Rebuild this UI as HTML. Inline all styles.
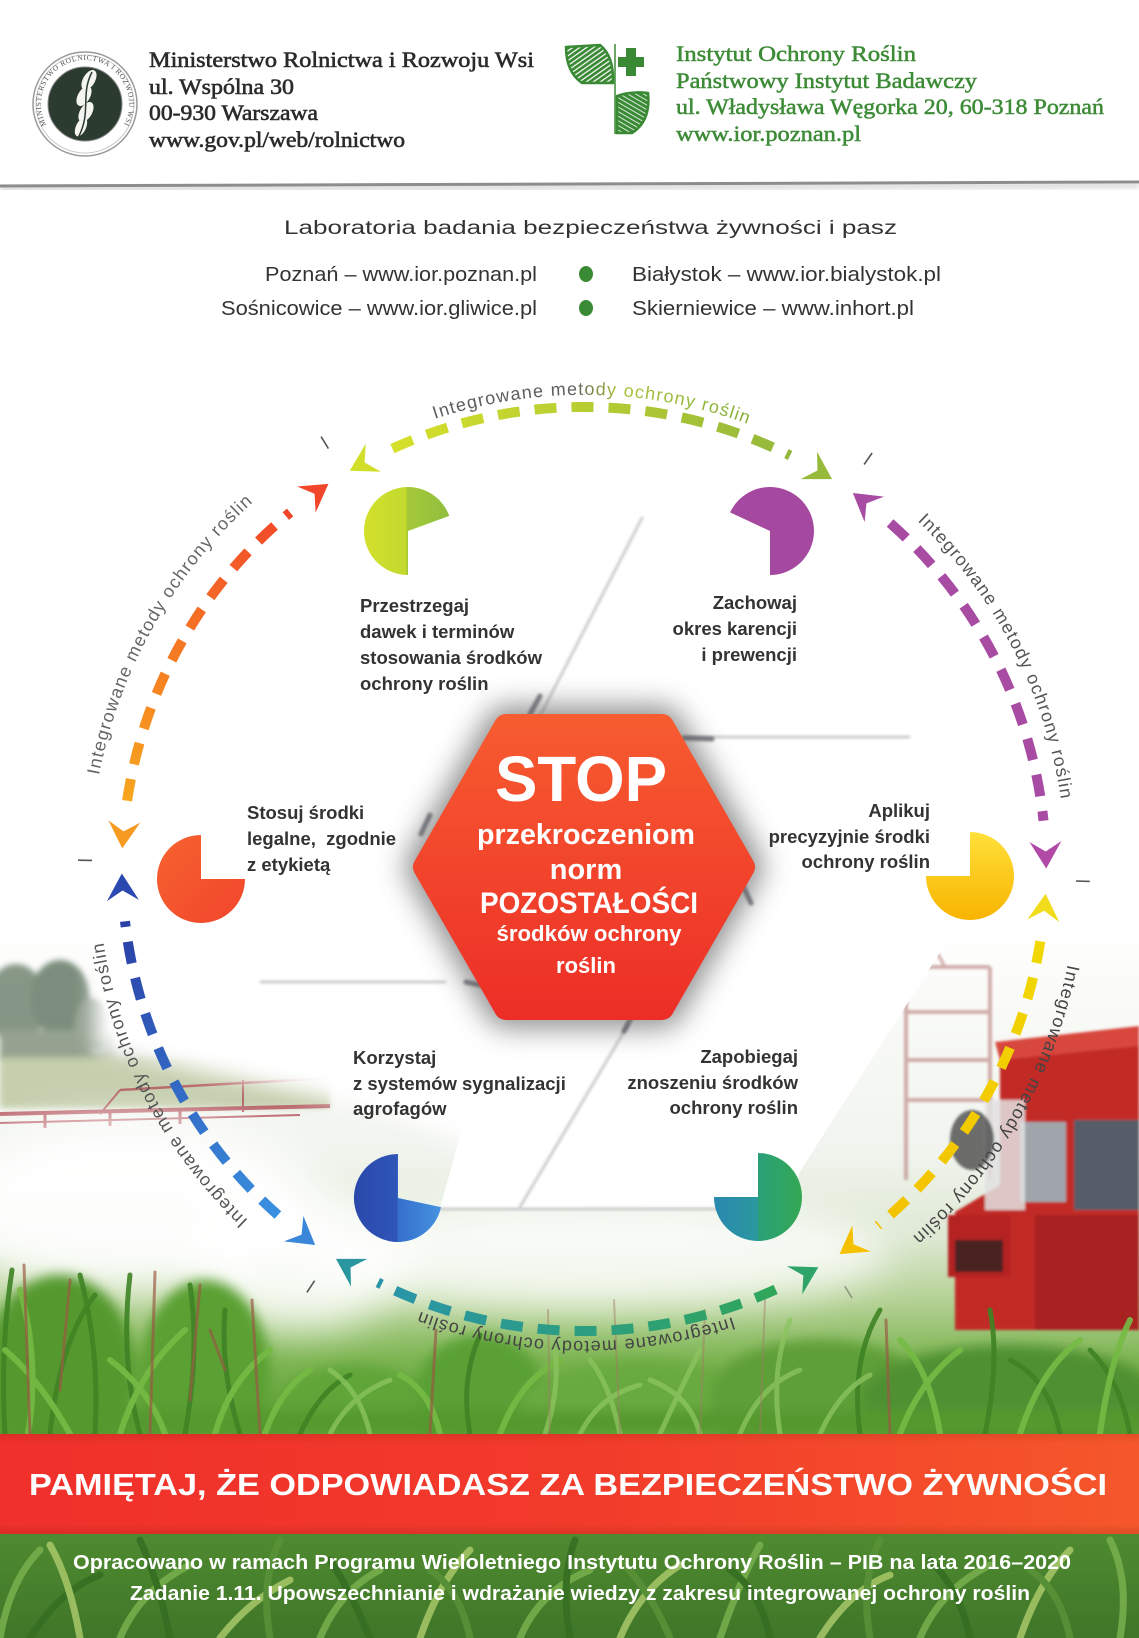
<!DOCTYPE html>
<html><head><meta charset="utf-8">
<style>
html,body{margin:0;padding:0;background:#fff;}
svg{display:block;}
</style></head><body>
<svg width="1139" height="1638" viewBox="0 0 1139 1638" xmlns="http://www.w3.org/2000/svg">
<defs>
  <filter id="b1" x="-20%" y="-20%" width="140%" height="140%"><feGaussianBlur stdDeviation="1.2"/></filter>
  <filter id="b2" x="-20%" y="-20%" width="140%" height="140%"><feGaussianBlur stdDeviation="1.6"/></filter>
  <filter id="b3" x="-20%" y="-20%" width="140%" height="140%"><feGaussianBlur stdDeviation="3"/></filter>
  <filter id="b6" x="-30%" y="-30%" width="160%" height="160%"><feGaussianBlur stdDeviation="6"/></filter>
  <filter id="b10" x="-30%" y="-30%" width="160%" height="160%"><feGaussianBlur stdDeviation="10"/></filter>
  <filter id="b14" x="-30%" y="-30%" width="160%" height="160%"><feGaussianBlur stdDeviation="14"/></filter>
  <filter id="b20" x="-40%" y="-40%" width="180%" height="180%"><feGaussianBlur stdDeviation="20"/></filter>

  <linearGradient id="field" x1="0" y1="925" x2="0" y2="1638" gradientUnits="userSpaceOnUse">
    <stop offset="0" stop-color="#ffffff"/>
    <stop offset="0.1" stop-color="#fafbf8"/>
    <stop offset="0.32" stop-color="#f1f4ee"/>
    <stop offset="0.44" stop-color="#dde8d2"/>
    <stop offset="0.53" stop-color="#b2d092"/>
    <stop offset="0.61" stop-color="#7db552"/>
    <stop offset="0.72" stop-color="#58982f"/>
    <stop offset="0.86" stop-color="#4e8a30"/>
    <stop offset="1" stop-color="#3f7628"/>
  </linearGradient>

  <linearGradient id="gOrange" x1="127" y1="801" x2="290" y2="512" gradientUnits="userSpaceOnUse">
    <stop offset="0" stop-color="#f7a61e"/><stop offset="1" stop-color="#f2462a"/>
  </linearGradient>
  <linearGradient id="gGreen" x1="392" y1="0" x2="790" y2="0" gradientUnits="userSpaceOnUse">
    <stop offset="0" stop-color="#d6e02a"/><stop offset="1" stop-color="#94b83c"/>
  </linearGradient>
  <linearGradient id="gYellow" x1="0" y1="941" x2="0" y2="1226" gradientUnits="userSpaceOnUse">
    <stop offset="0" stop-color="#f0d800"/><stop offset="1" stop-color="#f4c200"/>
  </linearGradient>
  <linearGradient id="gTeal" x1="378" y1="0" x2="776" y2="0" gradientUnits="userSpaceOnUse">
    <stop offset="0" stop-color="#2a94aa"/><stop offset="1" stop-color="#30a65a"/>
  </linearGradient>
  <linearGradient id="gBlue" x1="125" y1="921" x2="278" y2="1215" gradientUnits="userSpaceOnUse">
    <stop offset="0" stop-color="#2a3fa6"/><stop offset="1" stop-color="#3a90e0"/>
  </linearGradient>
  <linearGradient id="gTopText" x1="430" y1="0" x2="747" y2="0" gradientUnits="userSpaceOnUse">
    <stop offset="0" stop-color="#5e5e5e"/><stop offset="0.45" stop-color="#5e5e5e"/>
    <stop offset="0.6" stop-color="#a8c43a"/><stop offset="1" stop-color="#86b03a"/>
  </linearGradient>

  <linearGradient id="pgGreen" x1="0" y1="0" x2="1" y2="0">
    <stop offset="0" stop-color="#d3e02c"/><stop offset="0.5" stop-color="#c2d92e"/>
    <stop offset="0.5" stop-color="#a6c93a"/><stop offset="1" stop-color="#8fbf3e"/>
  </linearGradient>
  <linearGradient id="pgYellow" x1="0" y1="0" x2="0" y2="1">
    <stop offset="0" stop-color="#ffe03a"/><stop offset="1" stop-color="#f8b400"/>
  </linearGradient>
  <linearGradient id="pgBlue" x1="0" y1="0" x2="1" y2="0">
    <stop offset="0" stop-color="#2a48aa"/><stop offset="0.5" stop-color="#2f56b8"/>
    <stop offset="0.5" stop-color="#3570cc"/><stop offset="1" stop-color="#4592e0"/>
  </linearGradient>
  <linearGradient id="pgTeal" x1="0" y1="0" x2="1" y2="0">
    <stop offset="0" stop-color="#2a88b0"/><stop offset="0.5" stop-color="#2b989e"/>
    <stop offset="0.5" stop-color="#2aa07a"/><stop offset="1" stop-color="#34a852"/>
  </linearGradient>
  <linearGradient id="pgOrange" x1="0" y1="0" x2="1" y2="1">
    <stop offset="0" stop-color="#f7622f"/><stop offset="1" stop-color="#f0462c"/>
  </linearGradient>

  <linearGradient id="hexG" x1="0" y1="714" x2="0" y2="1019" gradientUnits="userSpaceOnUse">
    <stop offset="0" stop-color="#f75c30"/><stop offset="0.5" stop-color="#f2452c"/><stop offset="1" stop-color="#ec2e27"/>
  </linearGradient>
  <linearGradient id="bannerG" x1="0" y1="0" x2="1139" y2="0" gradientUnits="userSpaceOnUse">
    <stop offset="0" stop-color="#f0302b"/><stop offset="0.5" stop-color="#f23a2b"/><stop offset="1" stop-color="#f5572b"/>
  </linearGradient>
  <linearGradient id="bannerV" x1="0" y1="1434" x2="0" y2="1534" gradientUnits="userSpaceOnUse">
    <stop offset="0" stop-color="#000" stop-opacity="0.08"/><stop offset="0.1" stop-color="#000" stop-opacity="0"/>
    <stop offset="0.9" stop-color="#000" stop-opacity="0"/><stop offset="1" stop-color="#000" stop-opacity="0.1"/>
  </linearGradient>

  <pattern id="stripes" width="4" height="4" patternUnits="userSpaceOnUse" patternTransform="rotate(-35)">
    <rect width="4" height="4" fill="#ffffff"/><rect width="4" height="2.8" fill="#3a8a35"/>
  </pattern>
  <pattern id="stripes2" width="4" height="4" patternUnits="userSpaceOnUse" patternTransform="rotate(30)">
    <rect width="4" height="4" fill="#ffffff"/><rect width="4" height="3.2" fill="#3a8a35"/>
  </pattern>

  <path id="c1" d="M90,869 A494,494 0 1 1 1078,869 A494,494 0 1 1 90,869" fill="none"/>
  <path id="c2" d="M110,869 A474,474 0 1 1 1058,869 A474,474 0 1 1 110,869" fill="none"/>
  <path id="c3" d="M102,869 A482,482 0 1 1 1066,869 A482,482 0 1 1 102,869" fill="none"/>
  <path id="c4" d="M91,869 A493,493 0 1 1 1077,869 A493,493 0 1 1 91,869" fill="none"/>
  <path id="c5" d="M112,869 A472,472 0 1 1 1056,869 A472,472 0 1 1 112,869" fill="none"/>
  <path id="c6" d="M98,869 A486,486 0 1 1 1070,869 A486,486 0 1 1 98,869" fill="none"/>
  <path id="logoRing" d="M85,148 A44,44 0 1 1 85,60 A44,44 0 1 1 85,148" fill="none"/>
</defs>

<rect x="0" y="0" width="1139" height="1638" fill="#ffffff"/>

<!-- ================= PHOTO ================= -->
<g id="photo">
  <rect x="0" y="925" width="1139" height="713" fill="url(#field)"/>
  <!-- trees left -->
  <g filter="url(#b3)" opacity="0.8">
    <ellipse cx="16" cy="1004" rx="30" ry="40" fill="#6a7e6a"/>
    <ellipse cx="60" cy="998" rx="30" ry="38" fill="#5d735e"/>
    <ellipse cx="92" cy="1026" rx="18" ry="28" fill="#7a8b78"/>
    <rect x="0" y="1030" width="115" height="30" fill="#7d8d78"/>
    <ellipse cx="190" cy="1052" rx="100" ry="12" fill="#b8c1b2" opacity="0.7"/>
  </g>
  <rect x="0" y="1056" width="330" height="52" fill="#b5c196" filter="url(#b3)" opacity="0.75"/>
  <!-- boom -->
  <g stroke="#b24a55" fill="none" opacity="0.8">
    <path d="M0,1114 L330,1106" stroke-width="4"/>
    <path d="M0,1123 L300,1115" stroke-width="2"/>
    <path d="M120,1090 L330,1078" stroke-width="2.5"/>
    <path d="M243,1080 L243,1112" stroke-width="2"/>
    <path d="M120,1090 L100,1114" stroke-width="2"/>
    <path d="M45,1114 L45,1128 M110,1112 L110,1126 M180,1110 L180,1124" stroke-width="3"/>
  </g>

  <!-- sprayer frame right -->
  <g stroke="#b57a78" stroke-width="4" fill="none" opacity="0.6" filter="url(#b1)">
    <path d="M906,967 L906,1180 M990,967 L990,1180 M906,967 L990,967 M906,1012 L990,1012 M906,1060 L990,1060 M906,1100 L990,1100"/>
    <path d="M930,940 L945,967" stroke-width="3"/>
  </g>
  <!-- tractor -->
  <g filter="url(#b1)">
    <path d="M1000,1048 L1139,1032 L1139,1330 L955,1330 L955,1212 L1000,1185 Z" fill="#c22b27"/>
    <path d="M995,1042 L1139,1026 L1139,1046 L1000,1060 Z" fill="#d8463d"/>
    <rect x="1074" y="1120" width="65" height="90" fill="#555d68"/>
    <rect x="1020" y="1122" width="46" height="80" fill="#a0a5ab"/>
    <rect x="985" y="1100" width="40" height="110" fill="#e2e2e2" opacity="0.85"/>
    <ellipse cx="972" cy="1140" rx="22" ry="30" fill="#333" opacity="0.7"/>
    <rect x="948" y="1215" width="62" height="62" fill="#b42222"/>
    <rect x="955" y="1240" width="48" height="32" fill="#4a2222"/>
    <rect x="1035" y="1215" width="104" height="115" fill="#a82020"/>
  </g>

  <!-- spray mist left & centre -->
  <g filter="url(#b20)">
    <ellipse cx="130" cy="1205" rx="190" ry="85" fill="#fff" opacity="0.92"/>
    <ellipse cx="300" cy="1260" rx="110" ry="70" fill="#fff" opacity="0.85"/>
    <ellipse cx="590" cy="1255" rx="300" ry="55" fill="#fff" opacity="0.8"/>
  </g>

  <!-- corn clusters (blurred masses) -->
  <g filter="url(#b6)">
    <ellipse cx="60" cy="1370" rx="75" ry="95" fill="#54992f"/>
    <ellipse cx="205" cy="1375" rx="65" ry="95" fill="#5aa033"/>
    <ellipse cx="355" cy="1410" rx="80" ry="45" fill="#60a538"/>
    <ellipse cx="480" cy="1395" rx="65" ry="60" fill="#5aa034"/>
    <ellipse cx="640" cy="1405" rx="120" ry="45" fill="#69aa40"/>
    <ellipse cx="820" cy="1395" rx="110" ry="55" fill="#5e9f38"/>
    <ellipse cx="1010" cy="1400" rx="150" ry="55" fill="#4f9030"/>
    <rect x="0" y="1410" width="1139" height="24" fill="#55992f"/>
  </g>

  <!-- corn leaves above banner -->
  <g fill="none" stroke-linecap="round" opacity="0.9">
    <g stroke="#3f8325" stroke-width="5">
      <path d="M5,1434 Q0,1350 12,1270"/><path d="M50,1434 Q60,1340 95,1295"/>
      <path d="M95,1434 Q100,1350 80,1275"/><path d="M140,1434 Q120,1360 130,1275"/>
      <path d="M185,1434 Q200,1350 190,1285"/><path d="M240,1434 Q220,1370 225,1310"/>
      <path d="M860,1434 Q850,1360 880,1310"/><path d="M985,1434 Q1000,1360 990,1310"/>
      <path d="M1060,1434 Q1050,1380 1010,1360"/><path d="M1130,1434 Q1120,1380 1090,1350"/>
      <path d="M470,1434 Q460,1380 480,1335"/><path d="M300,1434 Q320,1390 350,1375"/>
    </g>
    <g stroke="#76bb45" stroke-width="6">
      <path d="M28,1434 Q40,1360 20,1290"/><path d="M70,1434 Q40,1380 5,1350"/>
      <path d="M120,1434 Q140,1370 185,1330"/><path d="M165,1434 Q150,1390 110,1360"/>
      <path d="M215,1434 Q230,1380 270,1350"/><path d="M265,1434 Q280,1390 310,1370"/>
      <path d="M900,1434 Q920,1380 960,1350"/><path d="M940,1434 Q930,1370 900,1340"/>
      <path d="M1020,1434 Q1040,1370 1080,1340"/><path d="M1100,1434 Q1110,1360 1130,1320"/>
      <path d="M500,1434 Q520,1380 560,1360"/><path d="M440,1434 Q430,1390 400,1375"/>
    </g>
    <g stroke="#8cc560" stroke-width="5" opacity="0.85">
      <path d="M330,1434 Q350,1395 390,1380"/><path d="M370,1434 Q360,1390 330,1370"/>
      <path d="M545,1434 Q560,1390 555,1350"/><path d="M580,1434 Q600,1395 640,1385"/>
      <path d="M620,1434 Q610,1385 590,1360"/><path d="M660,1434 Q680,1390 700,1350"/>
      <path d="M700,1434 Q690,1395 650,1380"/><path d="M740,1434 Q760,1385 800,1370"/>
      <path d="M780,1434 Q770,1370 790,1320"/><path d="M820,1434 Q840,1390 870,1375"/>
    </g>
    <g stroke="#9a5a44" stroke-width="3" opacity="0.75">
      <path d="M30,1434 L24,1265"/><path d="M60,1390 L70,1280"/><path d="M150,1434 L155,1272"/>
      <path d="M190,1400 L200,1285"/><path d="M260,1434 L252,1300"/>
      <path d="M430,1434 L436,1330"/><path d="M210,1330 L225,1370"/>
      <path d="M890,1434 L886,1320"/>
    </g>
    <g stroke="#a07a62" stroke-width="2" opacity="0.5">
      <path d="M620,1434 L614,1300"/><path d="M760,1434 L765,1300"/><path d="M700,1434 L705,1310"/>
      <path d="M550,1434 L548,1310"/>
    </g>
  </g>
  <!-- corn below banner -->
  <g fill="none" stroke-linecap="round" opacity="0.85" stroke-width="7">
    <g stroke="#79b04e">
      <path d="M0,1638 Q10,1580 40,1550"/><path d="M120,1638 Q140,1590 190,1565"/>
      <path d="M320,1638 Q340,1590 380,1570"/><path d="M520,1638 Q540,1590 590,1570"/>
      <path d="M720,1638 Q740,1580 760,1545"/><path d="M920,1638 Q940,1590 990,1565"/>
      <path d="M1120,1638 Q1130,1580 1110,1540"/>
    </g>
    <g stroke="#356e22">
      <path d="M30,1638 Q60,1590 100,1575"/><path d="M170,1638 Q160,1585 140,1540"/>
      <path d="M370,1638 Q350,1590 330,1560"/><path d="M570,1638 Q560,1580 575,1540"/>
      <path d="M770,1638 Q760,1590 730,1570"/><path d="M970,1638 Q960,1590 930,1560"/>
    </g>
    <g stroke="#a9c86a">
      <path d="M80,1638 Q70,1580 50,1545"/><path d="M220,1638 Q250,1600 290,1580"/>
      <path d="M420,1638 Q440,1580 470,1550"/><path d="M620,1638 Q640,1590 680,1565"/>
      <path d="M820,1638 Q850,1590 890,1575"/><path d="M1020,1638 Q1040,1580 1070,1550"/>
    </g>
    <g stroke="#5a9238">
      <path d="M270,1638 Q260,1580 280,1540"/><path d="M470,1638 Q460,1590 430,1570"/>
      <path d="M670,1638 Q650,1590 620,1560"/><path d="M870,1638 Q860,1580 880,1540"/>
      <path d="M1070,1638 Q1060,1590 1030,1570"/>
    </g>
  </g>
</g>

<!-- white panels overlay -->
<polygon points="95,922 620,922 620,1150 335,1100 95,1048" fill="#fff" filter="url(#b10)"/>
<polygon points="440,922 962,918 799,1173 786,1207 440,1208 470,1100" fill="#fff"/>
<polygon points="330,960 500,960 480,1150 360,1100" fill="#fff" filter="url(#b10)" opacity="0.9"/>

<!-- panel lines -->
<g fill="none" stroke-linecap="round">
  <g filter="url(#b1)" stroke="#cfcfcf" stroke-width="3">
    <path d="M642,518 L538,720"/>
    <path d="M684,737 L909,737"/>
    <path d="M261,982 L445,982"/>
    <path d="M628,1025 L520,1207"/>
    <path d="M440,1209 L790,1209"/>
  </g>
  <path d="M440,1212 L790,1212" stroke="#dcdcdc" stroke-width="5" filter="url(#b3)"/>
  <g filter="url(#b1)" stroke="#5a5a66" stroke-width="5" opacity="0.75">
    <path d="M540,696 L530,714"/>
    <path d="M684,738 L712,739"/>
    <path d="M430,815 L421,834"/>
    <path d="M743,886 L751,903"/>
    <path d="M466,982 L480,985"/>
    <path d="M630,1020 L624,1031"/>
  </g>
</g>

<!-- ================= RING ================= -->
<g fill="none" stroke-width="10" stroke-dasharray="22 15">
  <path d="M127.1,800.7 A462,462 0 0 1 290.1,512.5" stroke="url(#gOrange)"/>
  <path d="M392.4,448.6 A462,462 0 0 1 790.1,455.5" stroke="url(#gGreen)"/>
  <path d="M890.1,523.0 A462,462 0 0 1 1043.5,820.7" stroke="#a84ba3"/>
  <path d="M1040.3,941.3 A462,462 0 0 1 877.9,1225.5" stroke="url(#gYellow)"/>
  <path d="M775.6,1289.4 A462,462 0 0 1 377.9,1282.5" stroke="url(#gTeal)"/>
  <path d="M277.9,1215.0 A462,462 0 0 1 125.0,921.3" stroke="url(#gBlue)"/>
</g>
<!-- arrowheads -->
<g>
  <polygon points="14,0 -13,-16 -3,0 -13,16" fill="#f2462a" transform="translate(317,492) rotate(-35.3)"/>
  <polygon points="14,0 -13,-16 -3,0 -13,16" fill="#d2df2a" transform="translate(362,464) rotate(151.3)"/>
  <polygon points="14,0 -13,-16 -3,0 -13,16" fill="#98ba3a" transform="translate(820,472) rotate(30.7)"/>
  <polygon points="14,0 -13,-16 -3,0 -13,16" fill="#a84ba3" transform="translate(864,501.5) rotate(-142.7)"/>
  <polygon points="14,0 -13,-16 -3,0 -13,16" fill="#b04aa6" transform="translate(1045.8,854.5) rotate(88.2)"/>
  <polygon points="14,0 -13,-16 -3,0 -13,16" fill="#f0dc1a" transform="translate(1044.4,907.7) rotate(-85.2)"/>
  <polygon points="14,0 -13,-16 -3,0 -13,16" fill="#f5c000" transform="translate(851,1246) rotate(144.7)"/>
  <polygon points="14,0 -13,-16 -3,0 -13,16" fill="#2fa468" transform="translate(806,1274) rotate(-28.7)"/>
  <polygon points="14,0 -13,-16 -3,0 -13,16" fill="#2a96a0" transform="translate(348,1266) rotate(210.7)"/>
  <polygon points="14,0 -13,-16 -3,0 -13,16" fill="#3a86d8" transform="translate(304,1236.5) rotate(37.3)"/>
  <polygon points="14,0 -13,-16 -3,0 -13,16" fill="#2a48b0" transform="translate(122.4,887.5) rotate(267.7)"/>
  <polygon points="14,0 -13,-16 -3,0 -13,16" fill="#f69a22" transform="translate(123.3,834.4) rotate(94.3)"/>
</g>
<!-- ticks -->
<g stroke="#555" stroke-width="1.6">
  <line x1="328.4" y1="448.6" x2="321.1" y2="436.6"/>
  <line x1="864.1" y1="464.5" x2="872.1" y2="453.0"/>
  <line x1="1075.9" y1="881.0" x2="1089.8" y2="881.4"/>
  <line x1="844.7" y1="1286.2" x2="852.1" y2="1298.1" opacity="0.5"/>
  <line x1="314.6" y1="1280.7" x2="306.9" y2="1292.4"/>
  <line x1="92.1" y1="860.4" x2="78.1" y2="860.2"/>
</g>
<!-- ring texts -->
<g font-family="Liberation Sans, sans-serif" font-size="18" letter-spacing="1.2" text-anchor="middle">
  <text fill="#666"><textPath href="#c1" startOffset="254.3">Integrowane metody ochrony roślin</textPath></text>
  <text fill="url(#gTopText)"><textPath href="#c2" startOffset="752.8">Integrowane metody ochrony roślin</textPath></text>
  <text fill="#555"><textPath href="#c3" startOffset="1285">Integrowane metody ochrony roślin</textPath></text>
  <text fill="#444"><textPath href="#c4" startOffset="1804.8">Integrowane metody ochrony roślin</textPath></text>
  <text fill="#444"><textPath href="#c5" startOffset="2232.5">Integrowane metody ochrony roślin</textPath></text>
  <text fill="#555"><textPath href="#c6" startOffset="2820.4">Integrowane metody ochrony roślin</textPath></text>
</g>

<!-- ================= PIES ================= -->
<path d="M408,531 L408,575 A44,44 0 1 1 449.3,515.9 Z" fill="url(#pgGreen)"/>
<path d="M770,531 L730.1,512.4 A44,44 0 1 1 770,575 Z" fill="#a5489f"/>
<path d="M201,879 L245,879 A44,44 0 1 1 201,835 Z" fill="url(#pgOrange)"/>
<path d="M970,876 L970,832 A44,44 0 1 1 926,876 Z" fill="url(#pgYellow)"/>
<path d="M398,1198 L441,1207.1 A44,44 0 1 1 398,1154 Z" fill="url(#pgBlue)"/>
<path d="M758,1197 L758,1153 A44,44 0 1 1 714,1197 Z" fill="url(#pgTeal)"/>

<!-- ================= HEXAGON ================= -->
<polygon points="425,867 506,726 662,726 743,867 662,1008 506,1008" fill="#5e5e5e" stroke="#5e5e5e" stroke-width="40" stroke-linejoin="round" filter="url(#b14)" opacity="0.7"/>
<polygon points="425,867 506,726 662,726 743,867 662,1008 506,1008" fill="url(#hexG)" stroke="url(#hexG)" stroke-width="24" stroke-linejoin="round"/>
<g font-family="Liberation Sans, sans-serif" font-weight="bold" fill="#ffffff" text-anchor="middle">
  <text x="581" y="801" font-size="64" textLength="172" lengthAdjust="spacingAndGlyphs">STOP</text>
  <text x="586" y="844" font-size="29" textLength="218" lengthAdjust="spacingAndGlyphs">przekroczeniom</text>
  <text x="586" y="879" font-size="29">norm</text>
  <text x="589" y="913" font-size="29.5" textLength="218" lengthAdjust="spacingAndGlyphs">POZOSTAŁOŚCI</text>
  <text x="589" y="941" font-size="22" textLength="185" lengthAdjust="spacingAndGlyphs">środków ochrony</text>
  <text x="586" y="973" font-size="22">roślin</text>
</g>

<!-- ================= LABELS ================= -->
<g font-family="Liberation Sans, sans-serif" font-weight="bold" font-size="18.5" fill="#333">
  <text x="360" y="612">Przestrzegaj</text>
  <text x="360" y="638">dawek i terminów</text>
  <text x="360" y="664">stosowania środków</text>
  <text x="360" y="690">ochrony roślin</text>

  <g text-anchor="end">
    <text x="797" y="609">Zachowaj</text>
    <text x="797" y="635">okres karencji</text>
    <text x="797" y="661">i prewencji</text>
  </g>

  <text x="247" y="819">Stosuj środki</text>
  <text x="247" y="845" xml:space="preserve">legalne,  zgodnie</text>
  <text x="247" y="871">z etykietą</text>

  <g text-anchor="end">
    <text x="930" y="817">Aplikuj</text>
    <text x="930" y="843">precyzyjnie środki</text>
    <text x="930" y="868">ochrony roślin</text>
  </g>

  <text x="353" y="1064">Korzystaj</text>
  <text x="353" y="1090">z systemów sygnalizacji</text>
  <text x="353" y="1115">agrofagów</text>

  <g text-anchor="end">
    <text x="798" y="1063">Zapobiegaj</text>
    <text x="798" y="1089">znoszeniu środków</text>
    <text x="798" y="1114">ochrony roślin</text>
  </g>
</g>

<!-- ================= HEADER ================= -->
<circle cx="85" cy="104" r="52" fill="#fff" stroke="#9a9a9a" stroke-width="1.5"/>
<circle cx="85" cy="104" r="49" fill="none" stroke="#c8c8c8" stroke-width="1"/>
<text font-family="Liberation Serif, serif" font-size="7.5" fill="#555" letter-spacing="0.6" text-anchor="middle"><textPath href="#logoRing" startOffset="138">MINISTERSTWO ROLNICTWA I ROZWOJU WSI</textPath></text>
<circle cx="85" cy="104" r="37" fill="#2b3b2f" stroke="#888" stroke-width="1"/>
<g fill="#f4f4f0">
  <ellipse cx="89" cy="80" rx="6" ry="11" transform="rotate(30 89 80)"/>
  <ellipse cx="84" cy="96" rx="6" ry="11" transform="rotate(30 84 96)"/>
  <ellipse cx="86" cy="112" rx="6" ry="11" transform="rotate(30 86 112)"/>
  <ellipse cx="81" cy="127" rx="5" ry="10" transform="rotate(25 81 127)"/>
</g>
<path d="M92,72 C80,95 92,112 78,138" stroke="#2b3b2f" stroke-width="1.5" fill="none"/>

<g font-family="Liberation Serif, serif" font-size="22" fill="#2b2b2b" stroke="#2b2b2b" stroke-width="0.6">
  <text x="149" y="67" textLength="385" lengthAdjust="spacingAndGlyphs">Ministerstwo Rolnictwa i Rozwoju Wsi</text>
  <text x="149" y="94" textLength="145" lengthAdjust="spacingAndGlyphs">ul. Wspólna 30</text>
  <text x="149" y="120" textLength="169" lengthAdjust="spacingAndGlyphs">00-930 Warszawa</text>
  <text x="149" y="147" textLength="256" lengthAdjust="spacingAndGlyphs">www.gov.pl/web/rolnictwo</text>
</g>

<!-- IOR logo -->
<path d="M566,47 L600,45 Q614,56 613,83 L582,83 Q566,72 566,47 Z" fill="url(#stripes)" stroke="#3a8a35" stroke-width="2.5"/>
<line x1="615" y1="44" x2="615" y2="134" stroke="#3a8a35" stroke-width="1.5"/>
<rect x="626" y="48" width="10" height="28" fill="#3a8a35"/>
<rect x="618" y="57" width="26" height="10" fill="#3a8a35"/>
<path d="M617,133 L617,96 Q630,91 648,93 Q651,121 632,133 Z" fill="url(#stripes2)" stroke="#3a8a35" stroke-width="2.5"/>

<g font-family="Liberation Serif, serif" font-size="22" fill="#3d8b37" stroke="#3d8b37" stroke-width="0.5">
  <text x="676" y="61" textLength="240" lengthAdjust="spacingAndGlyphs">Instytut Ochrony Roślin</text>
  <text x="676" y="88" textLength="301" lengthAdjust="spacingAndGlyphs">Państwowy Instytut Badawczy</text>
  <text x="676" y="114" textLength="428" lengthAdjust="spacingAndGlyphs">ul. Władysława Węgorka 20, 60-318 Poznań</text>
  <text x="676" y="141" textLength="185" lengthAdjust="spacingAndGlyphs">www.ior.poznan.pl</text>
</g>

<!-- header separator line -->
<path d="M0,189 L1139,185" stroke="#d8d8d8" stroke-width="6" filter="url(#b3)"/>
<path d="M0,186 L1139,182" stroke="#8d8d8d" stroke-width="3"/>

<!-- labs -->
<g font-family="Liberation Sans, sans-serif" fill="#333">
  <text x="284" y="234" font-size="19" textLength="613" lengthAdjust="spacingAndGlyphs">Laboratoria badania bezpieczeństwa żywności i pasz</text>
  <text x="265" y="281" font-size="20" textLength="272" lengthAdjust="spacingAndGlyphs">Poznań – www.ior.poznan.pl</text>
  <text x="221" y="315" font-size="20" textLength="316" lengthAdjust="spacingAndGlyphs">Sośnicowice – www.ior.gliwice.pl</text>
  <text x="632" y="281" font-size="20" textLength="309" lengthAdjust="spacingAndGlyphs">Białystok – www.ior.bialystok.pl</text>
  <text x="632" y="315" font-size="20" textLength="282" lengthAdjust="spacingAndGlyphs">Skierniewice – www.inhort.pl</text>
</g>
<ellipse cx="586" cy="274" rx="7" ry="8" fill="#3a8a35"/>
<ellipse cx="586" cy="308" rx="7" ry="8" fill="#3a8a35"/>

<!-- ================= BANNER ================= -->
<rect x="0" y="1434" width="1139" height="100" fill="url(#bannerG)"/>
<rect x="0" y="1434" width="1139" height="100" fill="url(#bannerV)"/>
<text x="568" y="1495" font-family="Liberation Sans, sans-serif" font-weight="bold" font-size="31" fill="#ffffff" text-anchor="middle" textLength="1078" lengthAdjust="spacingAndGlyphs">PAMIĘTAJ, ŻE ODPOWIADASZ ZA BEZPIECZEŃSTWO ŻYWNOŚCI</text>

<g font-family="Liberation Sans, sans-serif" font-weight="bold" font-size="20" fill="#ffffff">
  <text x="73" y="1569" textLength="998" lengthAdjust="spacingAndGlyphs">Opracowano w ramach Programu Wieloletniego Instytutu Ochrony Roślin – PIB na lata 2016–2020</text>
  <text x="130" y="1600" textLength="900" lengthAdjust="spacingAndGlyphs">Zadanie 1.11. Upowszechnianie i wdrażanie wiedzy z zakresu integrowanej ochrony roślin</text>
</g>
</svg>
</body></html>
